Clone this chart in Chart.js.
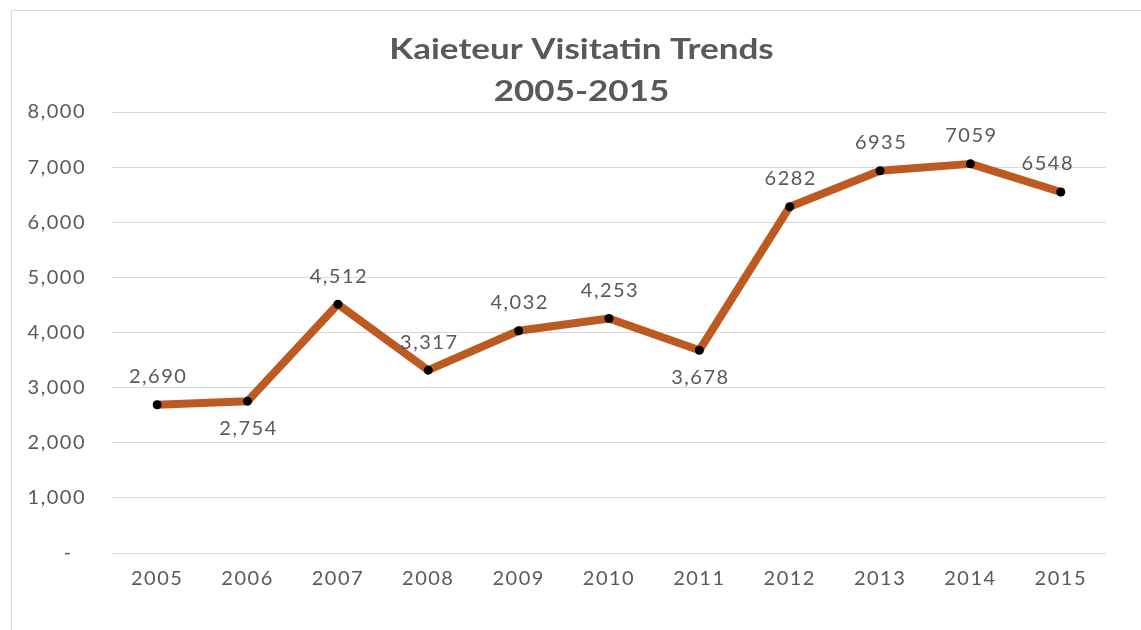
<!DOCTYPE html>
<html>
<head>
<meta charset="utf-8">
<script src="https://cdn.jsdelivr.net/npm/chart.js@4.4.1/dist/chart.umd.min.js"></script>
<style>
  html, body { margin: 0; padding: 0; background: #fff; overflow: hidden; }
  #wrap { position: relative; width: 1141px; height: 630px; }
  #frame { position: absolute; left: 11px; top: 10px; width: 1150px; height: 640px; border: 1px solid #d9d9d9; box-sizing: border-box; }
  canvas { position: absolute; left: 0; top: 0; }
</style>
</head>
<body>
<div id="wrap">
  <div id="frame"></div>
  <canvas id="c" width="1141" height="630"></canvas>
</div>
<script>
const years = ['2005','2006','2007','2008','2009','2010','2011','2012','2013','2014','2015'];
const visitors = [2690, 2754, 4512, 3317, 4032, 4253, 3678, 6282, 6935, 7059, 6548];
const pointLabels = ['2,690','2,754','4,512','3,317','4,032','4,253','3,678','6282','6935','7059','6548'];
const labelSides = ['above','below','above','above','above','above','below','above','above','above','above'];
const titleLines = ['Kaieteur Visitatin Trends', '2005-2015'];
const yTicks = [0, 1000, 2000, 3000, 4000, 5000, 6000, 7000, 8000];

const FONT = "Lato, 'Open Sans', sans-serif";
const TEXT = '#595959';
const SPACING = '1.5px';

const spacingPlugin = {
  id: 'letterSpacing',
  beforeLayout(chart) { chart.ctx.letterSpacing = SPACING; },
  beforeDraw(chart) { chart.ctx.letterSpacing = SPACING; }
};

const titlePlugin = {
  id: 'customTitle',
  afterDraw(chart) {
    const ctx = chart.ctx;
    ctx.save();
    ctx.fillStyle = TEXT;
    ctx.font = "bold 28px " + FONT;
    ctx.textAlign = 'center';
    ctx.textBaseline = 'middle';
    ctx.letterSpacing = '0px';
    const cx = chart.width / 2 + 11;
    ctx.translate(cx, 0);
    ctx.scale(1.25, 1);
    ctx.fillText(titleLines[0], 0, 50);
    ctx.fillText(titleLines[1], 0, 92);
    ctx.restore();
  }
};

const labelPlugin = {
  id: 'pointValueLabels',
  afterDatasetsDraw(chart) {
    const ctx = chart.ctx;
    const meta = chart.getDatasetMeta(0);
    ctx.save();
    ctx.fillStyle = TEXT;
    ctx.font = "20px " + FONT;
    ctx.letterSpacing = SPACING;
    ctx.textAlign = 'center';
    ctx.textBaseline = 'middle';
    meta.data.forEach((pt, i) => {
      const dy = labelSides[i] === 'below' ? 27 : -28;
      const dx = i === meta.data.length - 1 ? -13 : 1;
      ctx.fillText(pointLabels[i], pt.x + dx, pt.y + dy);
    });
    ctx.restore();
  }
};

new Chart(document.getElementById('c'), {
  type: 'line',
  data: {
    labels: years,
    datasets: [{
      data: visitors,
      borderColor: '#BC5A22',
      borderWidth: 8,
      borderCapStyle: 'round',
      borderJoinStyle: 'round',
      tension: 0,
      pointRadius: 4.5,
      pointBackgroundColor: '#000',
      pointBorderWidth: 0,
      pointHoverRadius: 4.5
    }]
  },
  options: {
    responsive: false,
    animation: false,
    events: [],
    layout: { padding: { top: 112, left: 20, right: 35, bottom: 37 } },
    plugins: {
      legend: { display: false },
      title: { display: false },
      tooltip: { enabled: false }
    },
    scales: {
      x: {
        offset: true,
        grid: { display: false, drawTicks: false },
        border: { display: false },
        ticks: { color: TEXT, font: { family: FONT, size: 20 }, padding: 14, maxRotation: 0 },
        afterFit(s) { s.height = 40; }
      },
      y: {
        min: 0,
        max: 8000,
        afterBuildTicks(s) { s.ticks = yTicks.map(v => ({ value: v })); },
        grid: { color: '#d9d9d9', lineWidth: 1, drawTicks: false },
        border: { display: false },
        ticks: {
          color: TEXT,
          font: { family: FONT, size: 20 },
          padding: 26,
          callback(v) { return v === 0 ? '-  ' : v.toLocaleString('en-US'); }
        },
        afterFit(s) { s.width = 92; }
      }
    }
  },
  plugins: [spacingPlugin, titlePlugin, labelPlugin]
});
</script>
</body>
</html>
